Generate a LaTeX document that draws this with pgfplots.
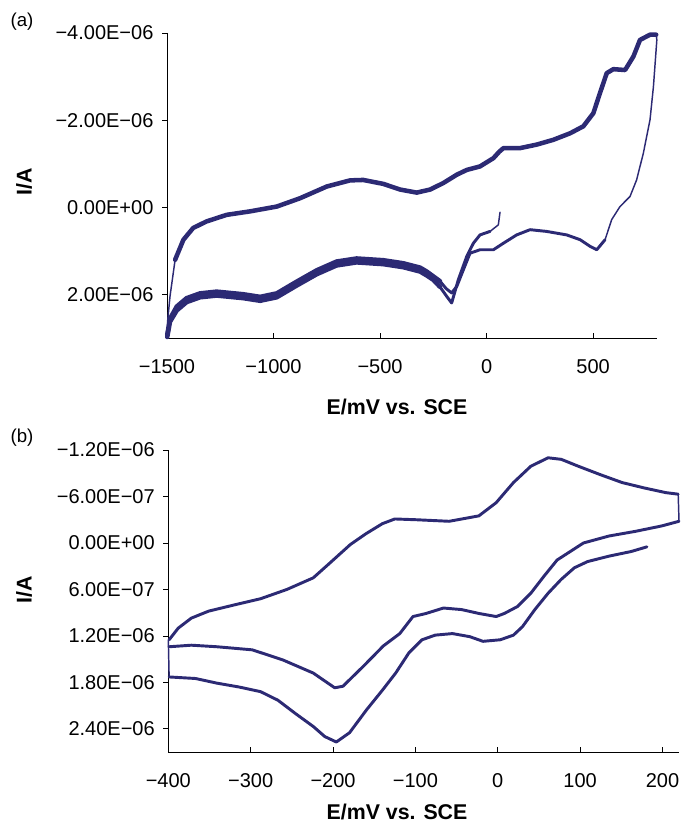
\documentclass[border=0pt]{standalone}
\usepackage{pgfplots}
\pgfplotsset{compat=1.18}
\usepackage{fontspec}
\setmainfont{Liberation Sans}
\definecolor{cv}{RGB}{44,42,116}

% current is in units of 1E-06 A, potential in mV
\pgfplotsset{
  cvaxis/.style={
    scale only axis, y dir=reverse, clip=false,
    axis line style={draw=none},
    tick align=inside,
    xtick pos=bottom, ytick pos=left,
    major tick length=3.75pt,
    tick style={black, line width=0.6pt},
    y tick style={xshift=-3.75pt},
    ticklabel style={font=\fontsize{15}{18}\selectfont},
    xticklabel style={inner sep=0pt, yshift=-16pt},
    yticklabel style={inner sep=0pt, xshift=-10pt},
  },
  thin/.style={cv, line width=1.1pt, line join=round, line cap=round},
  med/.style={cv, line width=2.2pt, line join=round, line cap=round},
  thick/.style={cv, line width=3.4pt, line join=round, line cap=round},
}

\begin{document}
\begin{tikzpicture}
\path[use as bounding box] (-125.25pt,253.7pt) rectangle (385.5pt,-365pt);

% ---------- (a) ----------
\begin{axis}[cvaxis, at={(0pt,0pt)}, anchor=south west,
  width=367.5pt, height=229pt,
  xmin=-1500, xmax=800, ymin=-4, ymax=3,
  xtick={-1500,-1000,-500,0,500},
  xticklabels={−1500,−1000,−500,0,500},
  ytick={-4,-2,0,2},
  yticklabels={−4.00E−06,−2.00E−06,0.00E+00,2.00E−06}]
\draw[black, line width=0.6pt] (axis description cs:0,1) -- (axis description cs:0,0) -- (axis description cs:1,0);
% start tail
\addplot[thin] coordinates {(63,0.11) (55,0.40) (16,0.55)};
\addplot[med] coordinates {(16,0.55) (-31,0.63) (-62,0.82) (-93,1.12) (-133,1.66) (-164,2.19) (-190,2.02) (-219,1.82)};
% first cathodic branch
\addplot[thick] coordinates {(-219,1.82) (-250,1.66) (-281,1.56) (-312,1.47) (-391,1.37) (-485,1.30) (-610,1.26) (-704,1.33) (-797,1.53) (-891,1.79) (-985,2.06) (-1063,2.14) (-1142,2.08) (-1267,2.02) (-1345,2.06) (-1408,2.17) (-1454,2.36) (-1486,2.62) (-1499,2.97)};
% anodic branch
\addplot[thin] coordinates {(-1499,2.97) (-1497,2.6) (-1486,2.04) (-1462,1.20)};
\addplot[thick] coordinates {(-1462,1.20) (-1423,0.74) (-1377,0.47) (-1314,0.32) (-1220,0.17) (-1110,0.09) (-985,-0.02) (-876,-0.21) (-750,-0.48) (-641,-0.62) (-579,-0.63) (-485,-0.54) (-406,-0.41) (-328,-0.34) (-265,-0.41) (-203,-0.56) (-140,-0.75) (-93,-0.86) (-31,-0.94) (32,-1.13) (60,-1.28) (79,-1.36) (157,-1.36) (235,-1.44) (313,-1.55) (392,-1.70) (454,-1.86) (501,-2.16) (532,-2.62) (564,-3.08) (595,-3.17) (650,-3.15) (689,-3.46) (720,-3.84) (767,-3.96) (796,-3.96)};
% reverse scan
\addplot[thin] coordinates {(796,-3.96) (799,-3.84) (783,-2.77) (767,-2.01) (736,-1.25) (704,-0.63) (673,-0.25) (626,-0.02) (587,0.28) (556,0.74)};
\addplot[med] coordinates {(556,0.74) (517,0.97) (485,0.89) (439,0.74) (376,0.63) (282,0.55) (204,0.51) (141,0.63) (79,0.82) (32,0.97) (-31,0.97) (-78,1.05) (-109,1.43) (-140,1.81) (-164,1.96) (-190,1.86) (-219,1.69)};
% second cathodic branch
\addplot[thick] coordinates {(-219,1.69) (-250,1.58) (-281,1.47) (-312,1.38) (-391,1.28) (-485,1.21) (-610,1.17) (-704,1.24) (-797,1.44) (-891,1.70) (-985,1.97) (-1063,2.05) (-1142,1.99) (-1267,1.93) (-1345,1.97) (-1408,2.08) (-1454,2.27) (-1486,2.55) (-1499,2.92)};
\end{axis}

% ---------- (b) ----------
\begin{axis}[cvaxis, at={(0.975pt,-310.3pt)}, anchor=south west,
  width=383pt, height=226.5pt,
  xmin=-400, xmax=220, ymin=-1.2, ymax=2.7,
  xtick={-400,-300,-200,-100,0,100,200},
  xticklabels={−400,−300,−200,−100,0,100,200},
  ytick={-1.2,-0.6,0,0.6,1.2,1.8,2.4},
  yticklabels={−1.20E−06,−6.00E−07,0.00E+00,6.00E−07,1.20E−06,1.80E−06,2.40E−06}]
\draw[black, line width=0.6pt] (axis description cs:0,1) -- (axis description cs:0,0) -- (axis description cs:1,0);
\addplot[med] coordinates {(181,0.05) (162,0.11) (135,0.17) (109,0.24) (93,0.32) (77,0.47) (61,0.65) (45,0.86) (30,1.08) (19,1.19) (3,1.25) (-18,1.27) (-34,1.21) (-55,1.17) (-76,1.19) (-92,1.25) (-108,1.42) (-124,1.68) (-140,1.90) (-159,2.15) (-180,2.45) (-196,2.57) (-210,2.50) (-224,2.37) (-246,2.20) (-267,2.03) (-288,1.92) (-314,1.86) (-341,1.81) (-367,1.75) (-399,1.73)};
\addplot[thin] coordinates {(-399,1.73) (-400,1.25)};
\addplot[med] coordinates {(-399,1.25) (-388,1.10) (-372,0.97) (-351,0.88) (-320,0.80) (-288,0.72) (-256,0.60) (-224,0.45) (-204,0.26) (-179,0.02) (-160,-0.12) (-140,-0.25) (-125,-0.31) (-99,-0.30) (-59,-0.28) (-23,-0.35) (-2,-0.52) (19,-0.78) (40,-0.99) (61,-1.10) (77,-1.08) (98,-0.99) (125,-0.88) (151,-0.78) (178,-0.71) (204,-0.65) (219,-0.63)};
\addplot[thin] coordinates {(219,-0.63) (220,-0.28)};
\addplot[med] coordinates {(220,-0.28) (199,-0.22) (167,-0.15) (135,-0.09) (104,0.0) (88,0.11) (72,0.22) (56,0.43) (40,0.65) (24,0.82) (8,0.91) (-2,0.95) (-23,0.91) (-44,0.86) (-66,0.84) (-87,0.91) (-103,0.95) (-119,1.17) (-139,1.33) (-163,1.59) (-188,1.85) (-198,1.87) (-224,1.68) (-261,1.51) (-298,1.38) (-341,1.34) (-372,1.32) (-399,1.34)};
\end{axis}

% labels
\node[font=\fontsize{16}{19}\selectfont\bfseries] at (172.5pt,-51.5pt) {E/mV vs. SCE};
\node[font=\fontsize{16}{19}\selectfont\bfseries, anchor=base] at (172.5pt,-360.5pt) {E/mV vs. SCE};
\node[rotate=90, font=\fontsize{16}{19}\selectfont\bfseries] at (-107.25pt,117.2pt) {I/A};
\node[rotate=90, font=\fontsize{16}{19}\selectfont\bfseries] at (-107.25pt,-188.8pt) {I/A};
\node[font=\fontsize{14}{17}\selectfont] at (-108.75pt,237.2pt) {(a)};
\node[font=\fontsize{14}{17}\selectfont] at (-108.75pt,-74.4pt) {(b)};
\end{tikzpicture}
\end{document}
